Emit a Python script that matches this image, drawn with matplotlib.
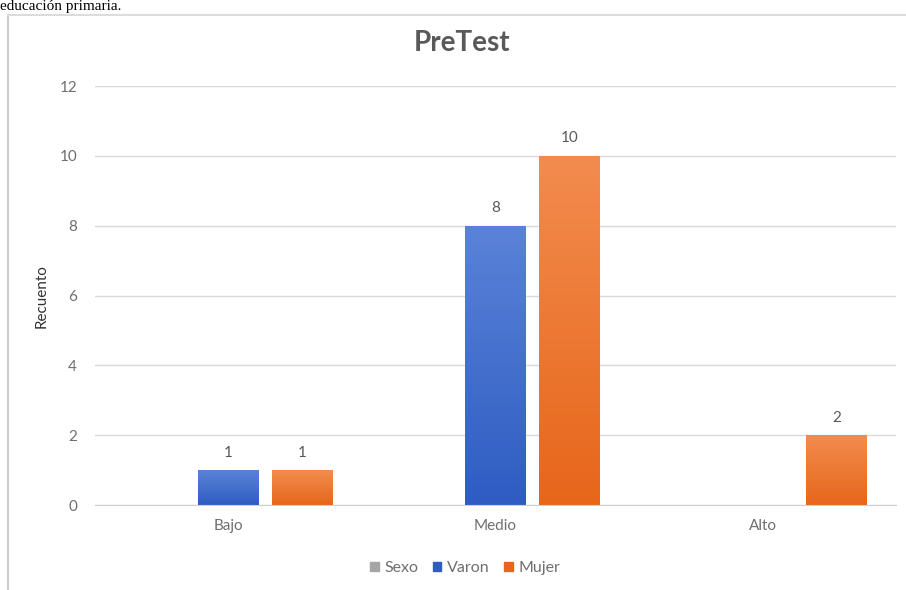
import numpy as np
import matplotlib
matplotlib.use("Agg")
import matplotlib.pyplot as plt
from matplotlib.colors import LinearSegmentedColormap
from matplotlib.lines import Line2D
from matplotlib.patches import Patch

plt.rcParams['font.family'] = ['Lato', 'DejaVu Sans']

categorias = ["Bajo", "Medio", "Alto"]
series = ["Sexo", "Varon", "Mujer"]
sexo = [0, 0, 0]
varon = [1, 8, 0]
mujer = [1, 10, 2]
yticks = [0, 2, 4, 6, 8, 10, 12]

gris = "#595959"
gris_claro = "#6e6e6e"
azul = ("#5a83d8", "#2e5cc2")      # arriba, abajo
naranja = ("#f28c4e", "#e7661a")
gris_sexo = "#a5a5a5"


def degradado(ax, bars, top, bottom):
    cmap = LinearSegmentedColormap.from_list("g", [bottom, top])
    grad = np.linspace(0, 1, 256).reshape(-1, 1)
    for b in bars:
        h = b.get_height()
        if h <= 0:
            continue
        x0 = b.get_x()
        w = b.get_width()
        im = ax.imshow(grad, cmap=cmap, origin="lower", aspect="auto",
                       extent=[x0, x0 + w, 0, h], zorder=b.get_zorder() + 0.1,
                       interpolation="bilinear")
        im.set_clip_path(b)


fig = plt.figure(figsize=(9.06, 5.90), dpi=100)
ax = fig.add_axes([0.105, 0.144, 0.884, 0.710])

x = np.arange(len(categorias))
paso = 0.277
ancho = 0.228

b_sexo = ax.bar(x - paso, sexo, ancho, color=gris_sexo, zorder=2)
b_var = ax.bar(x, varon, ancho, color=azul[1], zorder=2, linewidth=0)
b_muj = ax.bar(x + paso, mujer, ancho, color=naranja[1], zorder=2, linewidth=0)
degradado(ax, b_var, *azul)
degradado(ax, b_muj, *naranja)

# etiquetas de valor
for bars, vals in ((b_var, varon), (b_muj, mujer)):
    for b, v in zip(bars, vals):
        if v > 0:
            ax.text(b.get_x() + b.get_width() / 2, v + 0.3, str(v),
                    ha="center", va="bottom", fontsize=11, color=gris)

ax.set_xlim(-0.5, 2.5)
ax.set_ylim(0, 12)
ax.set_xticks(x)
ax.set_xticklabels(categorias)
ax.set_yticks(yticks)
ax.tick_params(axis="both", length=0, labelsize=11, colors=gris_claro)
ax.tick_params(axis="y", pad=13)
ax.tick_params(axis="x", pad=10)
ax.grid(axis="y", color="#d9d9d9", linewidth=1, zorder=0)
for s in ("top", "right", "left"):
    ax.spines[s].set_visible(False)
ax.spines["bottom"].set_color("#d0d0d0")
ax.set_ylabel("Recuento", fontsize=11, color="#333333", labelpad=8)

fig.text(462 / 906, 1 - 43 / 590, "PreTest", ha="center", va="center",
         fontsize=20, fontweight="bold", color=gris)

handles = [Patch(color=gris_sexo), Patch(color=azul[1]), Patch(color=naranja[1])]
fig.legend(handles, series, loc="center", bbox_to_anchor=(465 / 906, 1 - 568 / 590),
           ncol=3, frameon=False, fontsize=11.5, labelcolor=gris_claro,
           handlelength=0.55, handleheight=0.55, handletextpad=0.35, columnspacing=0.9)

# marco del gráfico y texto del documento
fig.add_artist(Line2D([8 / 906, 8 / 906], [0, 1 - 15 / 590], transform=fig.transFigure,
                      color="#cfcfcf", linewidth=1.5))
fig.add_artist(Line2D([8 / 906, 1], [1 - 15 / 590, 1 - 15 / 590], transform=fig.transFigure,
                      color="#dcdcdc", linewidth=1.5))
fig.text(0.0, 1.0, "educación primaria.", ha="left", va="top",
         fontsize=11, color="black", family=["Liberation Serif"])

fig.savefig("out.png", dpi=100, facecolor="white")
